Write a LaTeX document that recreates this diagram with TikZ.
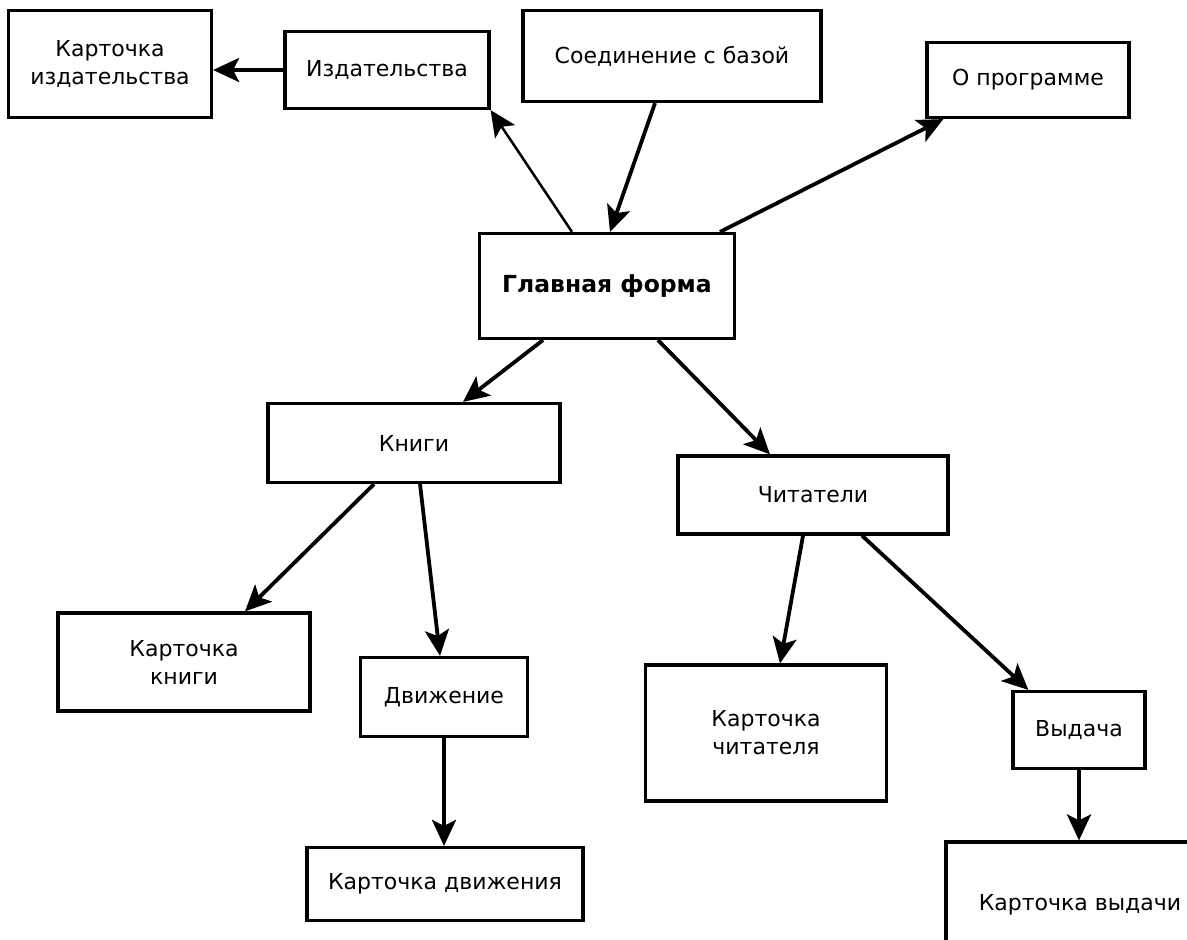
\documentclass[tikz,border=0pt]{standalone}
\usepackage{fontspec}
\setmainfont{DejaVu Sans}
\usetikzlibrary{arrows.meta}
\usetikzlibrary{positioning}

\begin{document}
\begin{tikzpicture}[->,>={Stealth[length=26pt,width=24pt,inset=6pt]},x=1pt,y=-1pt,line width=3.8pt,
	form/.style={draw,rectangle,line width=3.2pt,inner sep=0pt,align=center,font=\fontsize{22}{28}\selectfont}]
		\useasboundingbox (0,0) rectangle (1187,940);
		\clip (0,0) rectangle (1187,940);
		% top row
		\node[form,minimum width=203pt,minimum height=107pt] (kizd) at (110,64) {Карточка\\издательства};
		\node[form,minimum width=204pt,minimum height=77pt] (izd) at (387,70) {Издательства};
		\node[form,minimum width=298pt,minimum height=91pt] (conn) at (672,56) {Соединение с базой};
		\node[form,minimum width=202pt,minimum height=75pt] (about) at (1028,80) {О программе};
		% main form
		\node[form,minimum width=255pt,minimum height=105pt,font=\fontsize{23.5}{28}\selectfont\bfseries] (main) at (607,286) {Главная форма};
		% second level
		\node[form,minimum width=292pt,minimum height=79pt] (books) at (414,443) {Книги};
		\node[form,minimum width=270pt,minimum height=78pt] (readers) at (813,495) {Читатели};
		% cards
		\node[form,minimum width=252pt,minimum height=98pt] (kbook) at (184,662) {Карточка\\книги};
		\node[form,minimum width=167pt,minimum height=79pt] (move) at (444,697) {Движение};
		\node[form,minimum width=276pt,minimum height=73pt] (kmove) at (445,884) {Карточка движения};
		\node[form,minimum width=241pt,minimum height=136pt] (kreader) at (766,733) {Карточка\\читателя};
		\node[form,minimum width=132pt,minimum height=77pt] (issue) at (1079,730) {Выдача};
		\node[form,minimum width=268pt,minimum height=126pt] (kissue) at (1080,905) {Карточка выдачи};

		\draw (izd.west) -- (kizd.east |- izd.west);
		\draw[line width=2.5pt] ([xshift=-35pt]main.north) -- (izd.south east);
		\draw ([xshift=-17pt]conn.south) -- ([xshift=3pt]main.north);
		\draw ([xshift=113pt]main.north) -- ([xshift=18pt]about.south west);
		\draw ([xshift=-64pt]main.south) -- ([xshift=49pt]books.north);
		\draw ([xshift=51pt]main.south) -- ([xshift=-43pt]readers.north);
		\draw ([xshift=-40pt]books.south) -- ([xshift=61pt]kbook.north);
		\draw ([xshift=6pt]books.south) -- ([xshift=-4pt]move.north);
		\draw (move.south) -- (move.south |- kmove.north);
		\draw ([xshift=-10pt]readers.south) -- ([xshift=14pt]kreader.north);
		\draw ([xshift=49pt]readers.south) -- ([xshift=17pt]issue.north west);
		\draw (issue.south) -- (issue.south |- kissue.north);
		\end{tikzpicture}
\end{document}
